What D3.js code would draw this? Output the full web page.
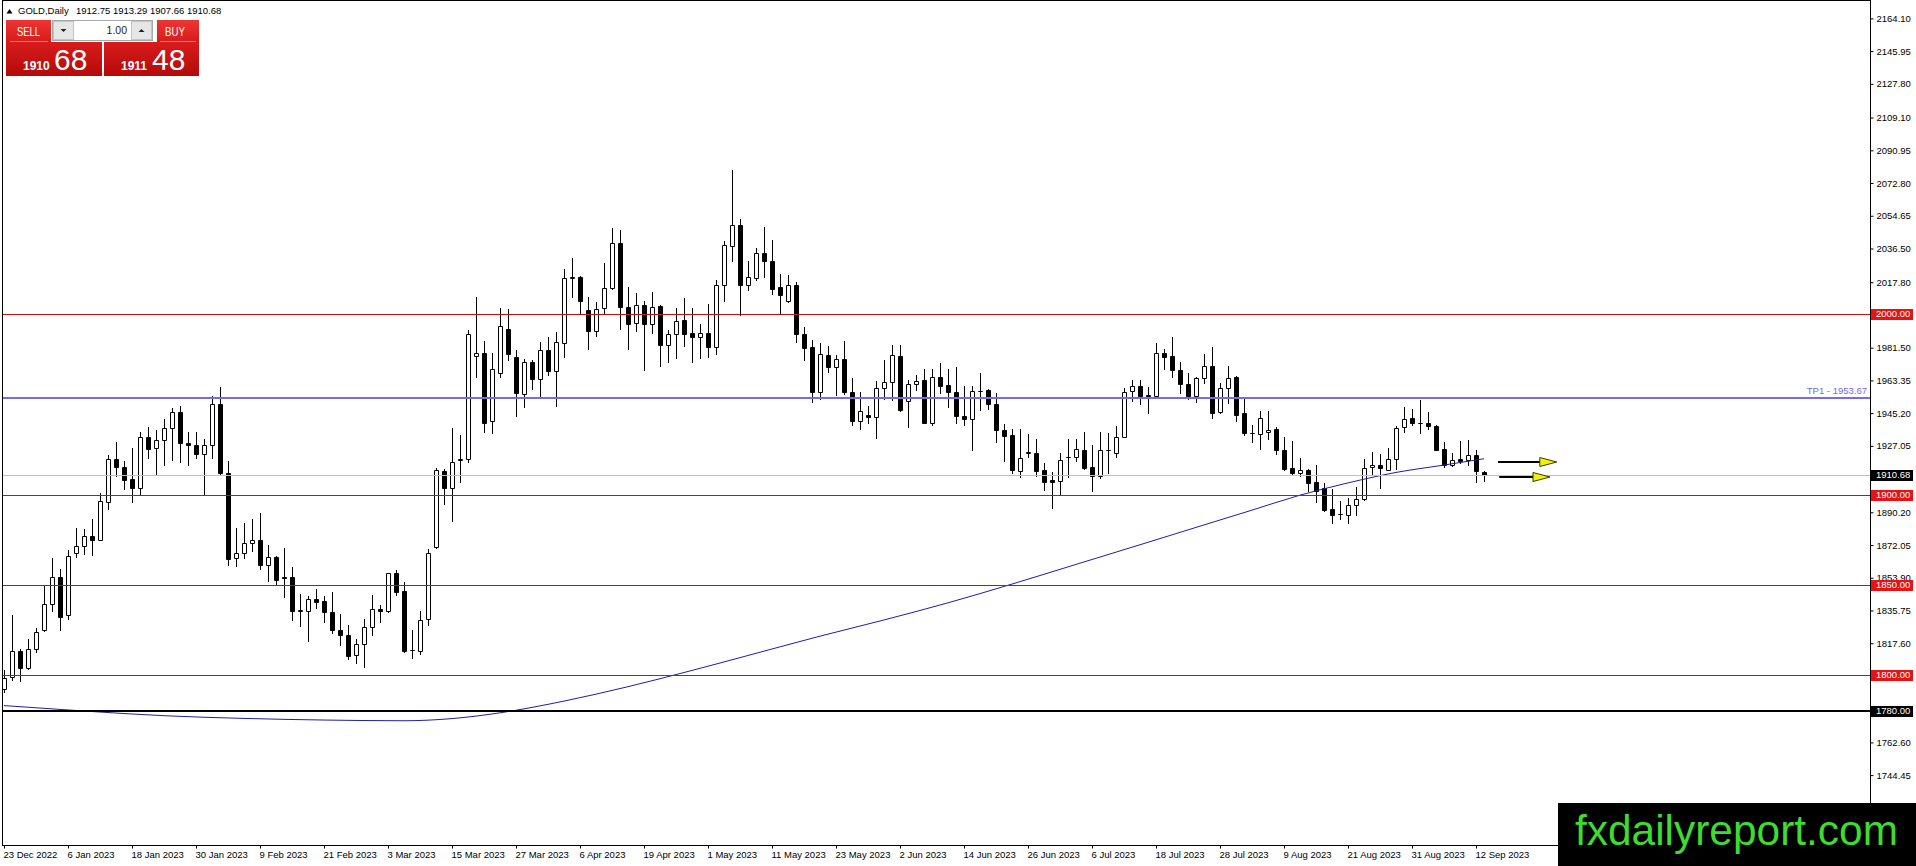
<!DOCTYPE html>
<html lang="en">
<head>
  <meta charset="utf-8" />
  <title>GOLD,Daily</title>
  <script src="https://cdn.jsdelivr.net/npm/d3@7"></script>
  <style>
    body { margin: 0; background: #fff; overflow: hidden; }
    svg { display: block; font-family: "Liberation Sans", Arial, sans-serif; }
  </style>
</head>
<body>
  <script type="text/javascript">
    // daily bars, 23 Dec 2022 .. 13 Sep 2023
    var opens = [
      1792.4, 1798.9, 1813.2, 1803.8, 1814.2, 1824.7, 1839.2, 1854.1, 1833.0, 1867.6,
      1871.3, 1876.8, 1875.0, 1896.1, 1919.9, 1915.5, 1908.5, 1903.7, 1932.0, 1926.0,
      1930.4, 1937.0, 1945.8, 1928.7, 1927.6, 1922.5, 1927.6, 1950.4, 1912.1, 1864.6,
      1867.6, 1872.9, 1875.1, 1861.1, 1865.2, 1854.1, 1854.1, 1835.7, 1835.7, 1842.2,
      1840.9, 1834.8, 1824.7, 1821.9, 1810.8, 1817.1, 1826.5, 1836.6, 1835.2, 1856.3,
      1846.4, 1813.6, 1813.2, 1831.1, 1870.7, 1912.9, 1903.8, 1919.3, 1919.9, 1977.0,
      1978.4, 1940.9, 1967.4, 1991.9, 1976.3, 1955.8, 1973.5, 1964.1, 1980.1, 1968.3,
      1984.0, 2020.4, 2020.6, 2002.2, 1991.0, 2003.3, 2014.4, 2039.8, 2003.9, 1995.0,
      2005.0, 1994.7, 2004.6, 1982.9, 1989.0, 1996.9, 1989.7, 1987.3, 1989.7, 1981.8,
      2016.2, 2037.9, 2049.7, 2016.2, 2020.2, 2034.0, 2029.6, 2014.9, 2007.5, 2016.0,
      1988.9, 1981.9, 1956.7, 1977.3, 1971.0, 1975.3, 1956.9, 1940.7, 1944.3, 1943.1,
      1959.1, 1962.4, 1976.9, 1951.9, 1961.1, 1963.7, 1939.7, 1965.2, 1960.9, 1956.9,
      1943.8, 1942.0, 1957.4, 1958.1, 1950.2, 1936.1, 1933.0, 1913.1, 1923.3, 1923.0,
      1913.5, 1907.9, 1907.6, 1920.6, 1921.0, 1925.0, 1915.5, 1910.3, 1924.6, 1923.2,
      1932.0, 1957.3, 1960.2, 1955.0, 1954.5, 1978.5, 1977.0, 1969.3, 1961.5, 1954.5,
      1964.6, 1971.6, 1945.9, 1959.1, 1965.2, 1945.3, 1934.4, 1933.7, 1934.8, 1936.6,
      1925.0, 1914.5, 1912.1, 1913.4, 1907.0, 1903.8, 1891.9, 1889.1, 1888.7, 1894.3,
      1897.4, 1915.5, 1916.7, 1913.6, 1919.9, 1937.5, 1942.5, 1939.8, 1939.8, 1938.3,
      1925.4, 1916.2, 1919.5, 1919.1, 1921.9, 1912.75
    ];
    var highs = [
      1802.6, 1833.3, 1814.5, 1820.1, 1826.1, 1850.1, 1864.8, 1858.5, 1869.4, 1881.4,
      1880.8, 1886.4, 1901.1, 1921.7, 1929.1, 1918.9, 1925.6, 1935.0, 1937.4, 1935.7,
      1942.0, 1948.0, 1949.3, 1934.8, 1934.6, 1930.9, 1954.9, 1959.6, 1918.6, 1881.4,
      1884.1, 1886.3, 1890.0, 1872.0, 1866.1, 1870.3, 1859.6, 1844.9, 1844.0, 1847.7,
      1843.6, 1845.8, 1833.9, 1827.8, 1819.7, 1831.1, 1844.4, 1838.8, 1856.5, 1858.4,
      1851.4, 1824.7, 1835.7, 1869.8, 1914.9, 1914.3, 1937.0, 1933.3, 1991.3, 2009.4,
      1985.4, 1978.4, 2003.3, 2002.8, 1980.3, 1975.2, 1974.4, 1984.4, 1987.3, 1990.4,
      2025.0, 2031.5, 2021.2, 2009.4, 2007.0, 2028.2, 2048.1, 2047.0, 2015.1, 2011.6,
      2007.6, 2012.2, 2005.0, 1991.4, 2003.3, 2009.0, 2003.3, 1994.7, 2005.7, 2019.0,
      2040.7, 2080.3, 2052.7, 2029.5, 2037.0, 2048.4, 2041.0, 2022.2, 2021.7, 2018.0,
      1993.1, 1985.8, 1983.9, 1982.5, 1977.3, 1985.2, 1964.6, 1956.9, 1949.3, 1962.8,
      1974.7, 1983.0, 1983.0, 1963.3, 1966.1, 1969.6, 1969.6, 1972.9, 1969.6, 1970.9,
      1960.0, 1960.4, 1967.4, 1958.5, 1956.3, 1939.4, 1936.5, 1936.5, 1933.7, 1930.6,
      1917.3, 1912.7, 1923.2, 1931.1, 1930.6, 1934.8, 1927.3, 1934.8, 1934.3, 1938.3,
      1959.1, 1963.7, 1963.7, 1959.7, 1984.0, 1980.9, 1987.3, 1973.5, 1967.4, 1965.2,
      1977.9, 1981.8, 1961.9, 1971.6, 1965.9, 1954.2, 1938.5, 1946.2, 1946.6, 1937.4,
      1932.0, 1930.0, 1920.4, 1914.3, 1916.7, 1906.2, 1903.3, 1896.5, 1898.3, 1904.4,
      1919.9, 1923.6, 1922.3, 1925.9, 1937.9, 1948.4, 1947.5, 1952.6, 1945.8, 1938.8,
      1929.1, 1923.2, 1929.6, 1930.2, 1924.7, 1913.29
    ];
    var lows = [
      1790.6, 1797.0, 1796.5, 1803.5, 1812.7, 1824.3, 1835.7, 1824.7, 1831.1, 1865.2,
      1867.2, 1866.6, 1874.6, 1892.2, 1910.3, 1903.3, 1895.9, 1900.2, 1920.2, 1910.8,
      1916.7, 1919.1, 1918.0, 1916.6, 1920.4, 1900.2, 1920.2, 1911.2, 1861.1, 1860.2,
      1864.6, 1868.9, 1858.7, 1852.3, 1850.4, 1843.1, 1830.2, 1827.4, 1818.6, 1837.0,
      1829.6, 1823.2, 1816.7, 1808.6, 1806.8, 1804.4, 1822.4, 1829.3, 1835.0, 1844.4,
      1812.7, 1809.4, 1811.8, 1827.8, 1870.5, 1894.6, 1885.4, 1907.0, 1918.0, 1965.5,
      1934.8, 1934.2, 1965.5, 1974.8, 1943.5, 1948.6, 1958.6, 1954.5, 1966.3, 1949.0,
      1976.6, 2009.4, 2000.2, 1980.9, 1988.2, 2000.9, 2013.8, 1991.9, 1980.7, 1991.0,
      1969.3, 1989.9, 1971.1, 1973.5, 1975.7, 1982.7, 1973.5, 1975.7, 1976.6, 1978.1,
      2007.6, 2029.7, 1999.6, 2013.5, 2019.3, 2020.8, 2011.0, 2000.0, 2007.0, 1984.9,
      1974.4, 1951.2, 1953.2, 1967.9, 1955.2, 1955.9, 1938.8, 1936.4, 1939.7, 1931.4,
      1953.2, 1952.6, 1946.5, 1937.5, 1958.2, 1939.5, 1938.8, 1956.3, 1948.4, 1939.7,
      1938.8, 1924.6, 1947.1, 1947.5, 1929.2, 1918.6, 1911.8, 1909.9, 1920.8, 1910.3,
      1902.6, 1892.6, 1900.2, 1909.9, 1918.6, 1914.0, 1902.0, 1909.4, 1911.8, 1920.8,
      1932.0, 1951.8, 1950.5, 1945.0, 1954.3, 1969.6, 1965.2, 1956.4, 1953.2, 1951.4,
      1961.9, 1942.5, 1945.3, 1950.8, 1940.7, 1932.8, 1929.3, 1925.4, 1930.9, 1922.8,
      1913.6, 1911.2, 1910.3, 1902.0, 1895.9, 1891.0, 1884.5, 1886.7, 1884.5, 1888.7,
      1897.0, 1911.2, 1903.8, 1913.6, 1914.3, 1934.6, 1938.8, 1934.2, 1936.4, 1924.7,
      1915.4, 1915.8, 1917.3, 1916.7, 1907.0, 1907.66
    ];
    var closes = [
      1798.5, 1813.2, 1803.8, 1814.5, 1823.7, 1839.2, 1854.1, 1832.0, 1865.7, 1871.3,
      1876.8, 1875.0, 1896.7, 1919.9, 1915.3, 1908.3, 1903.7, 1932.0, 1925.4, 1930.4,
      1937.0, 1945.8, 1928.7, 1927.6, 1922.5, 1927.6, 1950.4, 1911.8, 1864.3, 1867.6,
      1873.1, 1875.1, 1861.1, 1865.2, 1852.8, 1853.5, 1835.7, 1835.9, 1842.2, 1840.7,
      1834.8, 1824.7, 1821.9, 1810.5, 1817.1, 1826.5, 1836.3, 1835.2, 1856.3, 1846.2,
      1813.1, 1813.8, 1830.2, 1867.4, 1913.4, 1903.7, 1918.2, 1919.5, 1988.9, 1978.4,
      1939.8, 1969.6, 1993.5, 1977.9, 1956.4, 1973.5, 1964.1, 1980.1, 1968.3, 1984.5,
      2019.9, 2020.5, 2007.6, 1991.0, 2003.1, 2014.4, 2039.8, 2003.9, 1994.5, 2005.0,
      1994.5, 2004.2, 1982.9, 1989.0, 1996.5, 1989.0, 1987.3, 1989.7, 1981.8, 2016.2,
      2038.7, 2049.7, 2016.2, 2020.8, 2034.0, 2029.6, 2014.1, 2010.5, 2016.0, 1988.9,
      1981.2, 1956.7, 1977.9, 1971.0, 1975.1, 1956.7, 1940.7, 1946.4, 1942.9, 1959.1,
      1962.4, 1977.3, 1947.1, 1961.3, 1962.8, 1939.7, 1965.2, 1960.5, 1957.0, 1943.4,
      1942.0, 1957.2, 1957.6, 1950.2, 1935.7, 1932.4, 1913.5, 1920.4, 1923.5, 1913.1,
      1907.0, 1907.2, 1919.2, 1920.9, 1925.4, 1914.6, 1910.3, 1924.7, 1924.8, 1932.0,
      1956.9, 1960.2, 1954.9, 1954.8, 1978.5, 1976.1, 1969.3, 1961.3, 1954.9, 1964.6,
      1971.6, 1945.3, 1959.1, 1964.6, 1944.4, 1934.3, 1934.2, 1942.5, 1936.1, 1924.7,
      1914.0, 1912.1, 1913.4, 1906.6, 1901.8, 1891.5, 1888.7, 1889.0, 1894.3, 1897.4,
      1914.9, 1916.6, 1914.5, 1919.9, 1937.0, 1942.0, 1939.8, 1939.7, 1937.9, 1925.0,
      1916.2, 1919.1, 1918.6, 1921.9, 1913.1, 1910.68
    ];

    // moving average, sampled at some bars
    var maBars   = [0, 10, 20, 30, 40, 50, 56, 62, 70, 78, 86, 94, 102, 110, 118, 126, 134, 142, 150, 156, 162, 168, 174, 180, 185];
    var maValues = [1783.0, 1780.0, 1777.4, 1775.9, 1775.0, 1774.6, 1775.8, 1779.0, 1785.5, 1793.5, 1802.5, 1812.0, 1821.5, 1830.5, 1840.0, 1850.4, 1861.3, 1872.2, 1883.2, 1891.4, 1899.7, 1906.5, 1912.3, 1916.4, 1919.9];

    var dateLabels = ["23 Dec 2022", "6 Jan 2023", "18 Jan 2023", "30 Jan 2023", "9 Feb 2023", "21 Feb 2023",
      "3 Mar 2023", "15 Mar 2023", "27 Mar 2023", "6 Apr 2023", "19 Apr 2023", "1 May 2023", "11 May 2023",
      "23 May 2023", "2 Jun 2023", "14 Jun 2023", "26 Jun 2023", "6 Jul 2023", "18 Jul 2023", "28 Jul 2023",
      "9 Aug 2023", "21 Aug 2023", "31 Aug 2023", "12 Sep 2023"];
    var priceTicks = [2164.10, 2145.95, 2127.80, 2109.10, 2090.95, 2072.80, 2054.65, 2036.50, 2017.80,
      1981.50, 1963.35, 1945.20, 1927.05, 1890.20, 1872.05, 1853.90, 1835.75, 1817.60,
      1762.60, 1744.45];

    var redLevels = [2000, 1900, 1850, 1800];
    var blackLevel = 1780;
    var tpLevel = 1953.67;
    var bidPrice = 1910.68;
    var askPrice = 1911.48;
    var lastBar = ["1912.75", "1913.29", "1907.66", "1910.68"];

    // the two yellow arrows: price, first bar, last bar
    var arrowPrices = [1918.0, 1909.7];
    var arrowFrom = [186.75, 186.9];
    var arrowTo = [194.1, 193.25];

    var W = 1916, H = 866;
    var plotL = 2, plotR = 1870, plotT = 0, plotB = 845;

    var x = d3.scaleLinear().domain([0, 1]).range([4, 12]);
    var y = d3.scaleLinear().domain([1705.7, 2174.3]).range([plotB, plotT]);
    function crisp(v) { return Math.round(v) + 0.5; }

    var svg = d3.select("body").append("svg").attr("width", W).attr("height", H);

    var defs = svg.append("defs");
    defs.append("clipPath").attr("id", "plot").append("rect")
      .attr("x", plotL).attr("y", plotT).attr("width", plotR - plotL).attr("height", plotB - plotT);
    var g1 = defs.append("linearGradient").attr("id", "redTop").attr("x1", 0).attr("y1", 0).attr("x2", 0).attr("y2", 1);
    g1.append("stop").attr("offset", "0%").attr("stop-color", "#ef3434");
    g1.append("stop").attr("offset", "100%").attr("stop-color", "#d71c1c");
    var g2 = defs.append("linearGradient").attr("id", "redBig").attr("x1", 0).attr("y1", 0).attr("x2", 0).attr("y2", 1);
    g2.append("stop").attr("offset", "0%").attr("stop-color", "#d81c1c");
    g2.append("stop").attr("offset", "100%").attr("stop-color", "#b40a0a");

    var plot = svg.append("g").attr("clip-path", "url(#plot)");

    // candles
    var bars = d3.range(opens.length).map(function(i) {
      return { i: i, o: opens[i], h: highs[i], l: lows[i], c: closes[i] };
    });
    var candle = plot.append("g").selectAll("g").data(bars).enter().append("g");
    candle.append("line")
      .attr("x1", function(d) { return crisp(x(d.i)); })
      .attr("x2", function(d) { return crisp(x(d.i)); })
      .attr("y1", function(d) { return Math.round(y(d.h)); })
      .attr("y2", function(d) { return Math.round(y(d.l)) + 1; })
      .attr("stroke", "#000");
    candle.append("path")
      .attr("d", function(d) {
        var cx = Math.round(x(d.i));
        var t = Math.round(y(Math.max(d.o, d.c)));
        var b = Math.round(y(Math.min(d.o, d.c)));
        return "M" + (cx - 1.5) + "," + (t + 0.5) + "h4v" + (b - t) + "h-4Z";
      })
      .attr("fill", function(d) { return d.c > d.o ? "#fff" : "#000"; })
      .attr("stroke", "#000");

    // moving average
    var maLine = d3.line()
      .x(function(d) { return x(d[0]); })
      .y(function(d) { return y(d[1]); })
      .curve(d3.curveMonotoneX);
    plot.append("path")
      .datum(d3.zip(maBars, maValues))
      .attr("d", maLine)
      .attr("fill", "none")
      .attr("stroke", "#1e1ea6")
      .attr("stroke-width", 1);

    // horizontal lines
    plot.append("line").attr("x1", plotL).attr("x2", plotR)
      .attr("y1", crisp(y(bidPrice))).attr("y2", crisp(y(bidPrice)))
      .attr("stroke", "#c0c0c0");
    plot.selectAll(".lvl").data(redLevels).enter().append("line")
      .attr("x1", plotL).attr("x2", plotR)
      .attr("y1", function(d) { return crisp(y(d)); })
      .attr("y2", function(d) { return crisp(y(d)); })
      .attr("stroke", "#c41010");
    plot.append("line").attr("x1", plotL).attr("x2", plotR)
      .attr("y1", Math.round(y(blackLevel))).attr("y2", Math.round(y(blackLevel)))
      .attr("stroke", "#000").attr("stroke-width", 2);
    plot.append("line").attr("x1", plotL).attr("x2", plotR)
      .attr("y1", Math.round(y(tpLevel))).attr("y2", Math.round(y(tpLevel)))
      .attr("stroke", "#7b68ee").attr("stroke-width", 2);
    plot.append("text")
      .attr("x", plotR - 3).attr("y", Math.round(y(tpLevel)) - 4)
      .attr("text-anchor", "end").attr("font-size", 9.5).attr("fill", "#7b68ee")
      .text("TP1 - " + tpLevel.toFixed(2));

    // arrows
    var arrows = plot.append("g").selectAll("g").data(arrowPrices).enter().append("g");
    arrows.append("line")
      .attr("x1", function(d, k) { return x(arrowFrom[k]); })
      .attr("x2", function(d, k) { return x(arrowTo[k]) - 16; })
      .attr("y1", function(d) { return Math.round(y(d)); })
      .attr("y2", function(d) { return Math.round(y(d)); })
      .attr("stroke", "#000").attr("stroke-width", 2);
    arrows.append("path")
      .attr("d", function(d, k) {
        var xe = x(arrowTo[k]), yy = Math.round(y(d));
        return "M" + (xe - 17) + "," + (yy - 4.5) + "L" + xe + "," + yy + "L" + (xe - 17) + "," + (yy + 4.5) + "Z";
      })
      .attr("fill", "#f2f200").attr("stroke", "#3a3a00").attr("stroke-width", 1);

    // frame
    svg.append("rect").attr("x", plotL + 0.5).attr("y", plotT + 0.5)
      .attr("width", plotR - plotL).attr("height", plotB - plotT)
      .attr("fill", "none").attr("stroke", "#000");

    // price axis
    var yAxis = d3.axisRight(y).tickValues(priceTicks).tickSize(3).tickSizeOuter(0).tickPadding(3)
      .tickFormat(d3.format(".2f"));
    var ya = svg.append("g").attr("transform", "translate(" + (plotR + 0.5) + ",0)").call(yAxis);
    ya.attr("font-family", null).attr("font-size", 9.5);
    ya.select(".domain").remove();

    // date axis
    var xAxis = d3.axisBottom(x).tickValues(d3.range(0, opens.length, 8)).tickSize(3).tickSizeOuter(0)
      .tickFormat(function(d) { return dateLabels[d / 8]; });
    var xa = svg.append("g").attr("transform", "translate(0," + (plotB + 0.5) + ")").call(xAxis);
    xa.attr("font-family", null).attr("font-size", 9.5);
    xa.select(".domain").remove();
    xa.selectAll("text").attr("text-anchor", "start").attr("x", -1);

    // price labels on the axis
    function priceBox(v, fill) {
      var cy = Math.round(y(v));
      svg.append("rect").attr("x", plotR + 1).attr("y", cy - 5).attr("width", 42).attr("height", 11).attr("fill", fill);
      svg.append("text").attr("x", plotR + 6).attr("y", cy).attr("dy", "0.35em")
        .attr("font-size", 9.5).attr("fill", "#fff").text(v.toFixed(2));
    }
    redLevels.forEach(function(v) { priceBox(v, "#e81212"); });
    priceBox(bidPrice, "#000");
    priceBox(blackLevel, "#000");

    // title line
    svg.append("path").attr("d", "M6.5,13.5L12.5,13.5L9.5,9Z").attr("fill", "#000");
    svg.append("text").attr("x", 18).attr("y", 14).attr("font-size", 9.5).text("GOLD,Daily");
    svg.append("text").attr("x", 76).attr("y", 14).attr("font-size", 9.5).text(lastBar.join(" "));

    // one click trading panel
    var panel = svg.append("g");
    panel.append("rect").attr("x", 6).attr("y", 20).attr("width", 45).attr("height", 22).attr("fill", "url(#redTop)");
    panel.append("rect").attr("x", 157).attr("y", 20).attr("width", 42).attr("height", 22).attr("fill", "url(#redTop)");
    panel.append("line").attr("x1", 10).attr("x2", 48).attr("y1", 41.5).attr("y2", 41.5).attr("stroke", "#f07a7a");
    panel.append("line").attr("x1", 160).attr("x2", 196).attr("y1", 41.5).attr("y2", 41.5).attr("stroke", "#f07a7a");
    panel.append("rect").attr("x", 6).attr("y", 42).attr("width", 96).attr("height", 34).attr("fill", "url(#redBig)");
    panel.append("rect").attr("x", 104).attr("y", 42).attr("width", 95).attr("height", 34).attr("fill", "url(#redBig)");
    panel.append("text").attr("x", 17).attr("y", 36).attr("font-size", 12).attr("fill", "#fff")
      .attr("textLength", 23).attr("lengthAdjust", "spacingAndGlyphs").text("SELL");
    panel.append("text").attr("x", 165).attr("y", 36).attr("font-size", 12).attr("fill", "#fff")
      .attr("textLength", 20).attr("lengthAdjust", "spacingAndGlyphs").text("BUY");
    panel.append("rect").attr("x", 52.5).attr("y", 20.5).attr("width", 100).attr("height", 20)
      .attr("fill", "#fff").attr("stroke", "#a8a8a8");
    panel.append("rect").attr("x", 53.5).attr("y", 21.5).attr("width", 20).attr("height", 18)
      .attr("fill", "#e6e6e6").attr("stroke", "#c4c4c4");
    panel.append("rect").attr("x", 131.5).attr("y", 21.5).attr("width", 20).attr("height", 18)
      .attr("fill", "#e6e6e6").attr("stroke", "#c4c4c4");
    panel.append("path").attr("d", "M60.5,29L66.5,29L63.5,32Z").attr("fill", "#222");
    panel.append("path").attr("d", "M138.5,32L144.5,32L141.5,29Z").attr("fill", "#222");
    panel.append("text").attr("x", 127).attr("y", 34).attr("text-anchor", "end")
      .attr("font-size", 10.5).attr("fill", "#222").text("1.00");

    var bidParts = bidPrice.toFixed(2).split(".");
    var askParts = askPrice.toFixed(2).split(".");
    panel.append("text").attr("x", 23).attr("y", 70).attr("font-size", 12).attr("font-weight", "bold")
      .attr("fill", "#fff").text(bidParts[0]);
    panel.append("text").attr("x", 54).attr("y", 70).attr("font-size", 30)
      .attr("fill", "#fff").text(bidParts[1]);
    panel.append("text").attr("x", 121).attr("y", 70).attr("font-size", 12).attr("font-weight", "bold")
      .attr("fill", "#fff").text(askParts[0]);
    panel.append("text").attr("x", 152).attr("y", 70).attr("font-size", 30)
      .attr("fill", "#fff").text(askParts[1]);

    // watermark box
    svg.append("rect").attr("x", 1558).attr("y", 803).attr("width", W - 1558).attr("height", H - 803).attr("fill", "#000");
    svg.append("text").attr("x", 1575).attr("y", 845).attr("font-size", 42).attr("fill", "#3ddc2f")
      .attr("textLength", 323).attr("lengthAdjust", "spacingAndGlyphs").text("fxdailyreport.com");
  </script>
</body>
</html>
